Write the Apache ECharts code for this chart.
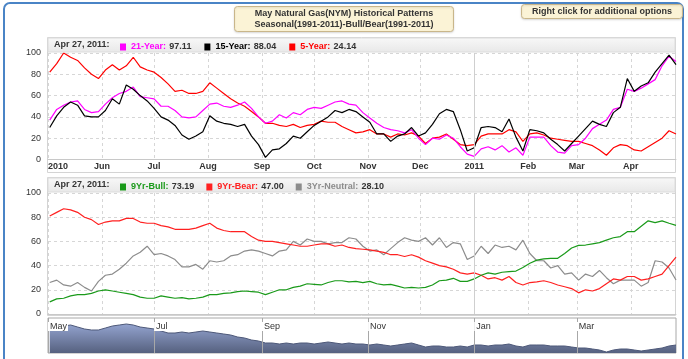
<!DOCTYPE html>
<html><head><meta charset="utf-8">
<script src="https://cdn.jsdelivr.net/npm/echarts@6/dist/echarts.min.js"></script>
<style>html,body{margin:0;padding:0;background:#fff;}#c{width:688px;height:359px;}</style>
</head><body><div id="c"></div>
<script>
// ---- data ----
const startDate = '2010-05-02';
const stepDays = 4;
const endDate = '2011-04-27';

const seasonal21 = [37,47,51,54,55,47,44,45,52,58,62,64,68,59,58,57,50,50,46,40,39,40,46,52,53,50,49,51,54,48,
 40,34,36,42,39,44,42,47,49,48,51,54,55,52,51,44,39,34,30,28,27,25,28,20,14,20,19,23,20,12,
 5,3,10,12,9,13,7,11,4,21,21,21,13,7,6,13,14,20,29,33,37,47,49,66,64,67,71,75,88,97,92];
const seasonal15 = [30,41,49,54,51,41,40,40,46,57,52,70,66,60,55,48,40,37,32,23,19,22,26,41,36,34,33,31,33,22,
 14,2,9,10,15,22,20,26,32,36,40,46,44,47,45,40,35,24,24,17,22,24,30,22,25,33,43,47,45,28,
 8,11,30,31,30,26,38,21,8,28,27,25,19,14,8,15,22,29,36,33,31,44,49,76,64,69,72,82,90,98,89];
const seasonal5 = [82,90,100,96,93,86,80,76,84,89,84,88,96,87,84,82,77,71,64,65,62,62,64,72,67,62,57,53,50,45,
 40,34,34,32,31,33,30,32,33,36,35,35,31,28,25,26,28,24,24,21,24,23,25,22,15,20,21,24,19,14,
 13,14,22,24,24,24,28,26,17,24,25,23,20,19,18,17,17,15,13,9,4,11,14,13,9,8,12,16,20,27,24];
const bull9 = [10,12.5,13,15,16,16,17,19,20,19,18,17,16,14,13,13,15,14,13,13.5,12.5,13,14,16,16,17,17.5,18.5,19,18.5,18,16,18,20,20,22,23,25,24.5,24,26,27.5,27.5,26.5,27,
 26,27,25,24,24.5,23,21.5,22,21.5,22,24,27.5,28,29.5,27,27,29,32,34,33,34.5,35,35.5,38.5,42,44.5,45.5,46,46,50,54.5,56.7,57,58,59,61,63,64,68,68,72.5,77,75.5,77,75,73.19];
const bear9 = [81,84,87,86,84,80,78,74,76,77,77,79,79,76,75,75,73,72,70,70,70,71,73,75,71,69,68,68,68,64,61,60,60,59,58,57,56,56,57,58,58,56,57,55,54,
 53.5,53,52,51,49,49,47.5,49,47,44,42,40,39,37,34,33,34,32,29,30,28,31,26,24,26,26.5,27.5,26,24,22.5,21,17.5,20,19,21,25,29,28,31,31,28,29,31,33,40,47];
const neutral3 = [26,28,24,23,26,22,19,27,32,33,37,42,48,51,56,49,50,48,45,39,39,41,37,44,43,44,48,49,52,53,52,50,48,52,53,60,57,62,60,60,58,59,59,63,62,
 56,52,53,49,54,59,63,61,60,63,57,63,55,59,58,45,48,56,50,57,55,56,53,61,50,44,44,38,40,33,34,28,33,31,36,30,25,28,28,28,23,26,44,43,38,28.1];
const navigatorValues = [26,27,27,28,26,24,23,23,25,27,28,29,28,26,25,24,22,20,20,21,20,21,22,21,20,19,18,16,15,13,
 12,10,10,9,10,9,10,10,9,10,11,10,9,10,9,9,8,9,8,7,8,9,10,8,6,7,7,6,6,7,6,8,8,7,8,8,9,7,6,8,8,8,7,7,7,6,5,5,4,3,1,3,4,4,3,2,3,4,5,7,8];

const headerDate = 'Apr 27, 2011:';
const topNames = ['21-Year','15-Year','5-Year'];
const topValues = ['97.11','88.04','24.14'];
const bottomNames = ['9Yr-Bull','9Yr-Bear','3Yr-Neutral'];
const bottomValues = ['73.19','47.00','28.10'];

const monthTicks = ['2010-05-01','2010-06-01','2010-07-01','2010-08-01','2010-09-01','2010-10-01','2010-11-01','2010-12-01','2011-01-01','2011-02-01','2011-03-01','2011-04-01'];
const monthLabels = ['2010','Jun','Jul','Aug','Sep','Oct','Nov','Dec','2011','Feb','Mar','Apr'];
const navTicks = ['2010-05-01','2010-07-01','2010-09-01','2010-11-01','2011-01-01','2011-03-01'];
const navLabels = ['May','Jul','Sep','Nov','Jan','Mar'];

// ---- build ----
const DAY = 86400000;
const P = s => Date.parse(s + 'T00:00:00Z');
const t0 = P(startDate);
const times = seasonal21.map((_, i) => t0 + i * stepDays * DAY);
const minT = P(monthTicks[0]);
const maxT = P(endDate);
const mLabelMap = {}; monthTicks.forEach((d, i) => mLabelMap[P(d)] = monthLabels[i]);
const nLabelMap = {}; navTicks.forEach((d, i) => nLabelMap[P(d)] = navLabels[i]);
const mTickVals = monthTicks.map(P);
const nTickVals = navTicks.map(P);
const pair = arr => times.map((t, i) => [t, arr[i]]);

const FONT = 'Liberation Sans';
const topColors = ['#ff00ff', '#000000', '#ff0000'];
const botColors = ['#1a9a1a', '#ff2020', '#8c8c8c'];

function legendFor(names, values, colors, gridTop, gap) {
  const rich = { v: { fontWeight: 'bold', color: '#333', fontSize: 9, fontFamily: FONT } };
  names.forEach((n, i) => rich['n' + i] = { fontWeight: 'bold', color: colors[i], fontSize: 9, fontFamily: FONT });
  return {
    left: 120, top: gridTop, itemWidth: 6, itemHeight: 7, itemGap: gap, icon: 'rect', selectedMode: false,
    padding: 0,
    data: names,
    formatter: name => { const i = names.indexOf(name); return '{n' + i + '|' + name + ':} {v|' + values[i] + '}'; },
    textStyle: { rich: rich }
  };
}

const janLine = {
  silent: true, symbol: 'none', label: { show: false },
  lineStyle: { color: '#cfcfcf', type: 'solid', width: 1 },
  data: [{ xAxis: P('2011-01-01') }]
};

function lineSeries(name, data, color, xi, withJan) {
  const s = { name, type: 'line', xAxisIndex: xi, yAxisIndex: xi, data, showSymbol: false, symbol: 'none',
    lineStyle: { color, width: 1.2 }, itemStyle: { color }, animation: false };
  if (withJan) s.markLine = janLine;
  return s;
}

function mainX(gi, showLabels) {
  return {
    type: 'value', gridIndex: gi, min: minT, max: maxT,
    axisLine: { show: true, onZero: false, lineStyle: { color: '#c8c8c8' } },
    axisTick: { show: false, customValues: mTickVals },
    axisLabel: { show: showLabels, customValues: mTickVals, formatter: v => mLabelMap[v] || '',
      color: '#333', fontSize: 9, fontWeight: 'bold', fontFamily: FONT, margin: 3, alignMinLabel: 'left', showMinLabel: true },
    splitLine: { show: true, lineStyle: { color: '#d6d6d6', type: [3, 3] } }
  };
}
function mainY(gi) {
  return {
    type: 'value', gridIndex: gi, min: 0, max: 100, interval: 20,
    axisLine: { show: false }, axisTick: { show: false },
    axisLabel: { color: '#333', fontSize: 9, fontFamily: FONT, margin: 7 },
    splitLine: { show: true, lineStyle: { color: '#d6d6d6', type: [3, 3] } }
  };
}

const chart = echarts.init(document.getElementById('c'), null, { renderer: 'canvas' });
chart.setOption({
  backgroundColor: '#ffffff',
  animation: false,
  textStyle: { fontFamily: FONT },
  title: [
    { text: 'May Natural Gas(NYM) Historical Patterns\nSeasonal(1991-2011)-Bull/Bear(1991-2011)',
      left: 'center', top: 6, padding: [2, 20, 2, 20],
      backgroundColor: '#fbf3d6', borderColor: '#c9b68a', borderWidth: 1, borderRadius: 3,
      shadowColor: 'rgba(0,0,0,0.12)', shadowBlur: 2, shadowOffsetY: 1,
      textStyle: { fontSize: 9, fontWeight: 'bold', color: '#333', lineHeight: 11, fontFamily: FONT, align: 'center' } },
    { text: 'Right click for additional options', right: 5, top: 4, padding: [3, 11, 3, 11],
      backgroundColor: '#fbf3d6', borderColor: '#c9b68a', borderWidth: 1, borderRadius: 3,
      shadowColor: 'rgba(0,0,0,0.12)', shadowBlur: 2, shadowOffsetY: 1,
      textStyle: { fontSize: 9, fontWeight: 'bold', color: '#333', fontFamily: FONT } }
  ],
  graphic: [
    { type: 'rect', z: -10, shape: { x: 4, y: 3, width: 679, height: 380, r: 6 },
      style: { fill: '#ffffff', stroke: '#4a84c6', lineWidth: 2 } },
    { type: 'rect', z: -5, shape: { x: 47.5, y: 37.5, width: 628, height: 135 }, style: { fill: '#fff', stroke: '#d4d4d4', lineWidth: 1 } },
    { type: 'rect', z: -4, shape: { x: 48, y: 38, width: 627, height: 14 },
      style: { fill: new echarts.graphic.LinearGradient(0, 0, 0, 1, [{ offset: 0, color: '#f8f8f8' }, { offset: 1, color: '#e8e8e8' }]), stroke: '#dcdcdc', lineWidth: 1 } },
    { type: 'rect', z: -5, shape: { x: 47.5, y: 177.5, width: 628, height: 138 }, style: { fill: '#fff', stroke: '#d4d4d4', lineWidth: 1 } },
    { type: 'rect', z: -4, shape: { x: 48, y: 178, width: 627, height: 14 },
      style: { fill: new echarts.graphic.LinearGradient(0, 0, 0, 1, [{ offset: 0, color: '#f8f8f8' }, { offset: 1, color: '#e8e8e8' }]), stroke: '#dcdcdc', lineWidth: 1 } },
    { type: 'text', x: 54, y: 45, style: { text: headerDate, font: 'bold 9px "' + FONT + '"', fill: '#333', verticalAlign: 'middle' } },
    { type: 'text', x: 54, y: 185, style: { text: headerDate, font: 'bold 9px "' + FONT + '"', fill: '#333', verticalAlign: 'middle' } }
  ],
  legend: [
    legendFor(topNames, topValues, topColors, 41, 13),
    legendFor(bottomNames, bottomValues, botColors, 181, 12)
  ],
  grid: [
    { left: 48, right: 12, top: 53, height: 106.5 },
    { left: 48, right: 12, top: 193, height: 121 },
    { left: 48, right: 12, top: 318, height: 35, show: true, borderColor: '#a8a8a8', borderWidth: 1, backgroundColor: '#fff' }
  ],
  xAxis: [
    mainX(0, true),
    mainX(1, false),
    { type: 'value', gridIndex: 2, min: minT, max: maxT, position: 'top', z: 5,
      axisLine: { show: false }, axisTick: { show: false, customValues: nTickVals },
      axisLabel: { inside: true, customValues: nTickVals, formatter: v => nLabelMap[v] || '',
        color: '#333', fontSize: 9, fontFamily: FONT, align: 'left', verticalAlign: 'top', margin: 4,
        padding: [0, 1, 0, 2], backgroundColor: '#fff' },
      splitLine: { show: true, lineStyle: { color: '#a8a8a8', width: 1 } } }
  ],
  yAxis: [
    mainY(0), mainY(1),
    { type: 'value', gridIndex: 2, min: 0, max: 35, show: false, splitLine: { show: false } }
  ],
  series: [
    lineSeries('5-Year', pair(seasonal5), topColors[2], 0, true),
    lineSeries('21-Year', pair(seasonal21), topColors[0], 0, false),
    lineSeries('15-Year', pair(seasonal15), topColors[1], 0, false),
    lineSeries('3Yr-Neutral', pair(neutral3), botColors[2], 1, true),
    lineSeries('9Yr-Bear', pair(bear9), botColors[1], 1, false),
    lineSeries('9Yr-Bull', pair(bull9), botColors[0], 1, false),
    { name: 'Navigator', type: 'line', xAxisIndex: 2, yAxisIndex: 2, data: pair(navigatorValues),
      showSymbol: false, symbol: 'none', z: 1, animation: false,
      lineStyle: { color: '#4d5878', width: 1 },
      areaStyle: { opacity: 1, color: new echarts.graphic.LinearGradient(0, 0, 0, 1, [{ offset: 0, color: '#93a3cf' }, { offset: 1, color: '#56617f' }]) } }
  ]
});
</script></body></html>
